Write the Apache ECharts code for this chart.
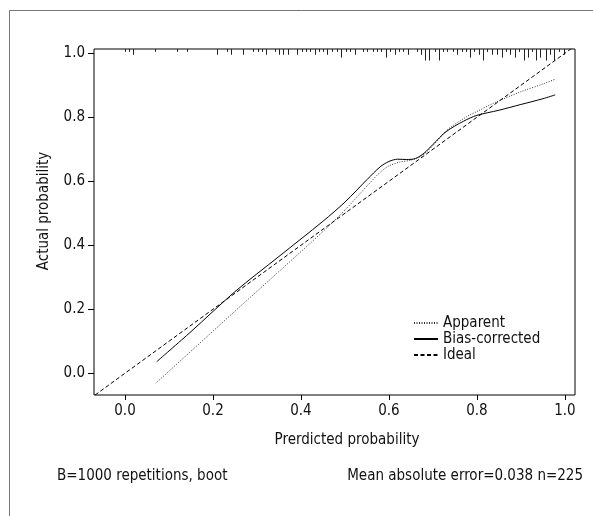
<!DOCTYPE html>
<html>
<head>
<meta charset="utf-8">
<script src="https://cdn.jsdelivr.net/npm/echarts@6/dist/echarts.min.js"></script>
<style>
  html, body { margin: 0; padding: 0; background: #fff; }
  #main { width: 593px; height: 516px; }
</style>
</head>
<body>
<div id="main"></div>
<script>
// 坐标轴刻度
var xTicks = [0, 0.2, 0.4, 0.6, 0.8, 1.0];
var yTicks = [0, 0.2, 0.4, 0.6, 0.8, 1.0];

// Apparent 曲线
var apparentX = [0.07, 0.15, 0.25, 0.35, 0.45, 0.5, 0.55, 0.58, 0.6, 0.625, 0.65, 0.675, 0.7, 0.732, 0.777, 0.8, 0.838, 0.9, 0.95, 0.978];
var apparentY = [-0.031, 0.069, 0.194, 0.318, 0.443, 0.51, 0.585, 0.628, 0.648, 0.66, 0.666, 0.68, 0.712, 0.76, 0.802, 0.818, 0.844, 0.88, 0.904, 0.919];

// Bias-corrected 曲线
var biasX = [0.072, 0.15, 0.25, 0.35, 0.45, 0.5, 0.55, 0.58, 0.6, 0.62, 0.64, 0.66, 0.68, 0.7, 0.73, 0.77, 0.8, 0.85, 0.9, 0.95, 0.978];
var biasY = [0.036, 0.13, 0.255, 0.365, 0.475, 0.535, 0.605, 0.645, 0.662, 0.669, 0.668, 0.671, 0.688, 0.715, 0.755, 0.788, 0.806, 0.822, 0.84, 0.858, 0.87];

// Ideal 对角线
var idealX = [-0.08, 1.03];
var idealY = [-0.08, 1.03];

// 顶部 rug（预测概率分布）
var rugX = [0.0, 0.009, 0.019, 0.068, 0.119, 0.14, 0.21, 0.231, 0.24, 0.269, 0.291, 0.302, 0.311, 0.321, 0.341, 0.35, 0.36, 0.371, 0.392, 0.402, 0.411, 0.421, 0.431, 0.441, 0.451, 0.46, 0.47, 0.482, 0.491, 0.503, 0.512, 0.522, 0.542, 0.551, 0.563, 0.573, 0.582, 0.593, 0.603, 0.613, 0.623, 0.633, 0.643, 0.664, 0.673, 0.683, 0.692, 0.704, 0.713, 0.724, 0.733, 0.746, 0.755, 0.766, 0.776, 0.785, 0.794, 0.804, 0.813, 0.823, 0.834, 0.846, 0.856, 0.865, 0.876, 0.886, 0.895, 0.906, 0.916, 0.925, 0.935, 0.944, 0.956, 0.967, 0.975, 0.986, 0.997];
var rugFreq = [1, 1, 2, 1, 1, 1, 2, 1, 2, 2, 1, 1, 1, 2, 1, 2, 2, 2, 2, 1, 1, 1, 2, 1, 1, 2, 1, 1, 3, 1, 1, 2, 1, 1, 1, 1, 1, 3, 1, 2, 1, 1, 2, 1, 2, 4, 4, 1, 4, 1, 1, 1, 2, 1, 1, 3, 1, 2, 4, 1, 2, 2, 3, 1, 2, 3, 1, 4, 3, 1, 4, 3, 4, 2, 4, 1, 2];

var xMin = -0.0705, xMax = 1.023;
var yMin = -0.068, yMax = 1.0134;
var rugUnit = 0.009;

function pairs(xs, ys) {
  return xs.map(function(x, i) { return [x, ys[i]]; });
}

var font = '"Liberation Sans Narrow", "DejaVu Sans Condensed", "Roboto Condensed", sans-serif';

(function() {
  var myChart = echarts.init(document.getElementById("main"));

  var option = {
    animation: false,
    textStyle: { fontFamily: font },
    grid: {
      left: 94,
      top: 49,
      right: 18,
      bottom: 121,
      show: true,
      borderColor: "#000",
      borderWidth: 1,
      containLabel: false,
      outerBoundsMode: "none"
    },
    legend: {
      orient: "vertical",
      left: 413,
      top: 315,
      padding: 0,
      itemWidth: 24,
      itemHeight: 14,
      itemGap: 0,
      itemStyle: { opacity: 0 },
      data: ["Apparent", "Bias-corrected", "Ideal"],
      textStyle: { color: "#111", fontSize: 15, lineHeight: 16, fontFamily: font }
    },
    xAxis: {
      type: "value",
      min: xMin,
      max: xMax,
      axisLine: { show: false, onZero: false },
      splitLine: { show: false },
      axisTick: { show: true, length: 5, customValues: xTicks, lineStyle: { color: "#000" } },
      axisLabel: {
        customValues: xTicks,
        margin: 9,
        color: "#111",
        fontSize: 15,
        fontFamily: font,
        formatter: function(v) { return v.toFixed(1); }
      }
    },
    yAxis: {
      type: "value",
      min: yMin,
      max: yMax,
      axisLine: { show: false, onZero: false },
      splitLine: { show: false },
      axisTick: { show: true, length: 6, customValues: yTicks, lineStyle: { color: "#000" } },
      axisLabel: {
        customValues: yTicks,
        margin: 9,
        color: "#111",
        fontSize: 15,
        fontFamily: font,
        formatter: function(v) { return v.toFixed(1); }
      }
    },
    graphic: [
      {
        type: "rect",
        shape: { x: 9.5, y: 10.5, width: 800, height: 800 },
        style: { fill: "none", stroke: "#777", lineWidth: 1 },
        silent: true
      },
      {
        type: "text",
        x: 44, y: 211,
        rotation: Math.PI / 2,
        style: { text: "Actual probability", font: "15px " + font, fill: "#111", textAlign: "center", textVerticalAlign: "middle" }
      },
      {
        type: "text",
        x: 347, y: 440,
        style: { text: "Prerdicted probability", font: "15px " + font, fill: "#111", textAlign: "center", textVerticalAlign: "middle" }
      },
      {
        type: "text",
        x: 57, y: 476,
        style: { text: "B=1000 repetitions, boot", font: "15px " + font, fill: "#111", textAlign: "left", textVerticalAlign: "middle" }
      },
      {
        type: "text",
        x: 583, y: 476,
        style: { text: "Mean absolute error=0.038 n=225", font: "15px " + font, fill: "#111", textAlign: "right", textVerticalAlign: "middle" }
      }
    ],
    series: [
      {
        name: "Apparent",
        type: "line",
        smooth: 0.3,
        symbol: "none",
        data: pairs(apparentX, apparentY),
        lineStyle: { color: "#333", width: 1, type: [1, 1.5] },
        itemStyle: { color: "#333" }
      },
      {
        name: "Bias-corrected",
        type: "line",
        smooth: 0.3,
        symbol: "none",
        data: pairs(biasX, biasY),
        lineStyle: { color: "#000", width: 1, type: "solid" },
        itemStyle: { color: "#000" }
      },
      {
        name: "Ideal",
        type: "line",
        symbol: "none",
        clip: true,
        data: pairs(idealX, idealY),
        lineStyle: { color: "#000", width: 1, type: [4, 2.5] },
        itemStyle: { color: "#000" }
      },
      {
        type: "custom",
        clip: true,
        data: pairs(rugX, rugFreq),
        renderItem: function(params, api) {
          var x = api.value(0);
          var f = api.value(1);
          var p1 = api.coord([x, yMax]);
          var p2 = api.coord([x, yMax - f * rugUnit]);
          var px = Math.round(p1[0]) + 0.5;
          return {
            type: "line",
            shape: { x1: px, y1: p1[1], x2: px, y2: p2[1] },
            style: { stroke: "#222", lineWidth: 1 }
          };
        }
      }
    ]
  };

  myChart.setOption(option);
  window.addEventListener("resize", function() {
    myChart.resize();
  });
})();
</script>
</body>
</html>
